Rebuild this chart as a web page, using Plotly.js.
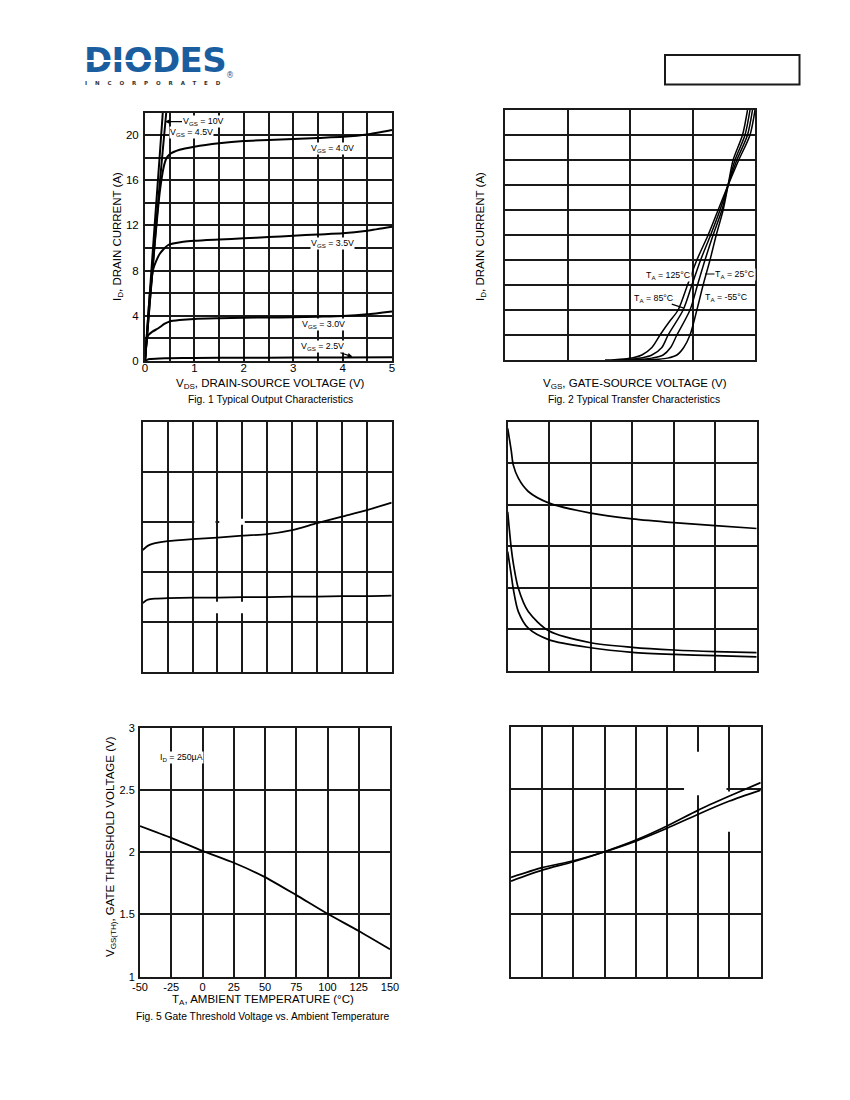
<!DOCTYPE html>
<html>
<head>
<meta charset="utf-8">
<script src="https://cdn.plot.ly/plotly-3.0.1.min.js"></script>
<style>
  body { margin:0; background:#fff; }
  #page { position:relative; width:850px; height:1100px; overflow:hidden; }
  #chart { position:absolute; left:0; top:0; width:850px; height:1100px; }
  #logo { position:absolute; left:84px; top:43px; }
  #logoWord { font-family:"DejaVu Sans", sans-serif; font-weight:bold; font-size:34px; line-height:34px; color:#1b5e9f; letter-spacing:-0.6px; }
  #logoStripe { position:absolute; left:1px; top:17px; width:72px; height:1.6px; background:#fff; }
  #logoInc { position:absolute; left:1px; top:37px; font-family:"DejaVu Sans", sans-serif; font-weight:bold; font-size:5.5px; letter-spacing:7.9px; color:#333; white-space:nowrap; }
  #logoReg { position:absolute; left:142px; top:28px; font-family:"DejaVu Sans", sans-serif; font-size:8px; color:#1b5e9f; }
</style>
</head>
<body>
<div id="page">
  <div id="chart"></div>
  <div id="logo">
    <div id="logoWord">DIODES</div>
    <div id="logoStripe"></div>
    <div id="logoInc">INCORPORATED</div>
    <div id="logoReg">®</div>
  </div>
</div>
<script>
// ---------------- DATA ----------------
// Fig. 1 Typical Output Characteristics (VDS in V, ID in A)
const fig1_10V_x  = [0, 0.1, 0.2, 0.3, 0.36];
const fig1_10V_y  = [0, 6.2, 12.3, 18.3, 22];
const fig1_45V_x  = [0, 0.1, 0.2, 0.3, 0.43];
const fig1_45V_y  = [0, 5.4, 10.7, 15.8, 22];
const fig1_40V_x  = [0, 0.1, 0.2, 0.3, 0.38, 0.43, 0.5, 0.7, 1, 1.5, 2, 2.5, 3, 3.5, 4, 4.5, 5];
const fig1_40V_y  = [0, 5.3, 10.5, 15, 17.2, 17.9, 18.3, 18.7, 18.97, 19.27, 19.47, 19.57, 19.65, 19.75, 19.85, 20.05, 20.45];
const fig1_35V_x  = [0, 0.05, 0.1, 0.17, 0.3, 0.47, 0.78, 1, 1.5, 2, 2.5, 3, 3.5, 4, 4.5, 5];
const fig1_35V_y  = [0, 3.0, 6.0, 8.2, 9.5, 10.27, 10.56, 10.65, 10.76, 10.86, 10.97, 11.09, 11.2, 11.3, 11.53, 11.88];
const fig1_30V_x  = [0, 0.02, 0.07, 0.15, 0.27, 0.4, 0.5, 0.7, 1, 1.5, 2, 2.5, 3, 3.5, 4, 4.5, 5];
const fig1_30V_y  = [0, 1.5, 2.3, 2.6, 2.9, 3.3, 3.5, 3.62, 3.72, 3.78, 3.83, 3.85, 3.87, 3.92, 3.98, 4.13, 4.39];
const fig1_25V_x  = [0, 0.05, 0.1, 0.3, 0.5, 1, 2, 3, 4, 5];
const fig1_25V_y  = [0, 0.12, 0.17, 0.22, 0.25, 0.27, 0.29, 0.3, 0.31, 0.33];
const fig1XTickVals = [0, 0.5, 1, 1.5, 2, 2.5, 3, 3.5, 4, 4.5, 5];
const fig1XTickText = ['0', '', '1', '', '2', '', '3', '', '4', '', '5'];
const fig1YTickVals = [0, 2, 4, 6, 8, 10, 12, 14, 16, 18, 20, 22];
const fig1YTickText = ['0', '', '4', '', '8', '', '12', '', '16', '', '20', ''];

// Fig. 2 Typical Transfer Characteristics (VGS in V, ID in A)
const fig2_125_x = [1.6, 1.75, 1.9, 2.05, 2.19, 2.35, 2.48, 2.62, 2.77, 2.92, 3.07, 3.25, 3.41, 3.57, 3.74, 3.92, 4.0];
const fig2_125_y = [0, 0.03, 0.08, 0.18, 0.4, 1, 2, 3, 4, 6, 8, 10, 12, 14, 16, 18, 20];
const fig2_85_x  = [1.75, 1.9, 2.05, 2.2, 2.35, 2.51, 2.61, 2.85, 2.99, 3.13, 3.29, 3.44, 3.57, 3.71, 3.88, 3.96];
const fig2_85_y  = [0, 0.03, 0.08, 0.18, 0.4, 1, 2, 4, 6, 8, 10, 12, 14, 16, 18, 20];
const fig2_25_x  = [1.9, 2.05, 2.2, 2.35, 2.53, 2.65, 2.75, 2.96, 3.08, 3.2, 3.33, 3.47, 3.57, 3.68, 3.84, 3.92];
const fig2_25_y  = [0, 0.02, 0.06, 0.15, 0.4, 1, 2, 4, 6, 8, 10, 12, 14, 16, 18, 20];
const fig2_m55_x = [2.1, 2.3, 2.45, 2.6, 2.75, 2.86, 2.96, 3.07, 3.17, 3.28, 3.38, 3.49, 3.57, 3.65, 3.80, 3.88];
const fig2_m55_y = [0, 0.02, 0.06, 0.15, 0.4, 1, 2, 4, 6, 8, 10, 12, 14, 16, 18, 20];
const fig2XTickVals = [0, 1, 2, 3, 4];
const fig2YTickVals = [0, 2, 4, 6, 8, 10, 12, 14, 16, 18, 20];

// Fig. 3 (labels removed in the reference)
const fig3_x      = [0, 0.3, 0.6, 1, 2, 4, 6, 8, 10, 12, 14, 16, 18, 20];
const fig3_upper  = [0.0243, 0.0250, 0.0254, 0.0257, 0.0261, 0.0265, 0.0268, 0.0272, 0.0275, 0.0283, 0.0297, 0.031, 0.0323, 0.0338];
const fig3_lower  = [0.0137, 0.0143, 0.0145, 0.0146, 0.0147, 0.0148, 0.0148, 0.0149, 0.0149, 0.0150, 0.0150, 0.0151, 0.0151, 0.0152];
const fig3XTickVals = [0, 2, 4, 6, 8, 10, 12, 14, 16, 18, 20];
const fig3YTickVals = [0, 0.01, 0.02, 0.03, 0.04, 0.05];

// Fig. 4 (labels removed in the reference)
const fig4_x      = [0, 0.43, 0.67, 1.28, 2.48, 5, 10, 15, 20, 25, 30];
const fig4_upper  = [0.0584, 0.053, 0.0496, 0.0464, 0.0432, 0.0404, 0.038, 0.0366, 0.0357, 0.035, 0.0343];
const fig4_middle = [0.0383, 0.0295, 0.026, 0.0199, 0.0143, 0.0096, 0.0068, 0.0057, 0.00505, 0.00465, 0.0044];
const fig4_lower  = [0.0287, 0.0231, 0.0198, 0.0143, 0.0103, 0.0075, 0.0056, 0.0045, 0.0040, 0.0037, 0.0034];
const fig4XTickVals = [0, 5, 10, 15, 20, 25, 30];
const fig4YTickVals = [0, 0.01, 0.02, 0.03, 0.04, 0.05, 0.06];

// Fig. 5 Gate Threshold Voltage vs. Ambient Temperature
const fig5_temp = [-50, -25, 0, 25, 50, 75, 100, 125, 150];
const fig5_vth  = [2.21, 2.115, 2.01, 1.915, 1.80, 1.655, 1.505, 1.367, 1.22];
const fig5XTickVals = [-50, -25, 0, 25, 50, 75, 100, 125, 150];
const fig5XTickText = ['-50', '-25', '0', '25', '50', '75', '100', '125', '150'];
const fig5YTickVals = [1, 1.5, 2, 2.5, 3];
const fig5YTickText = ['1', '1.5', '2', '2.5', '3'];

// Fig. 6 (labels removed in the reference)
const fig6_temp = [-50, -25, 0, 25, 50, 75, 100, 125, 150];
const fig6_a    = [0.906, 0.941, 0.968, 1.0, 1.037, 1.082, 1.133, 1.178, 1.221];
const fig6_b    = [0.918, 0.949, 0.971, 1.0, 1.034, 1.075, 1.12, 1.162, 1.197];
const fig6XTickVals = [-50, -25, 0, 25, 50, 75, 100, 125, 150];
const fig6YTickVals = [0.6, 0.8, 1.0, 1.2, 1.4];

// ---------------- LAYOUT HELPERS ----------------
const W = 850, H = 1100;
const FONT = 'Liberation Sans, Arial, sans-serif';
const GRID = '#1a1a1a';
const px = p => p / W;
const py = p => 1 - p / H;

function axis(domain, range, tickvals, ticktext, anchor, showLabels, standoff, fsize) {
  const a = {
    domain: domain, range: range, anchor: anchor,
    tickmode: 'array', tickvals: tickvals,
    showticklabels: showLabels,
    showgrid: true, gridcolor: GRID, gridwidth: 2,
    zeroline: false, showline: true, mirror: true,
    linecolor: GRID, linewidth: 2,
    ticks: '', ticklabelstandoff: standoff || 0,
    tickfont: { family: FONT, size: fsize || 11.5, color: '#000' },
    fixedrange: true
  };
  if (ticktext) a.ticktext = ticktext;
  return a;
}

function line(x, y, xa, ya, w, smooth) {
  return {
    type: 'scatter', mode: 'lines', x: x, y: y, xaxis: xa, yaxis: ya,
    line: { color: '#000', width: w, shape: 'spline', smoothing: smooth },
    hoverinfo: 'skip', showlegend: false
  };
}

const traces = [
  line(fig1_10V_x, fig1_10V_y, 'x', 'y', 2, 0.3),
  line(fig1_45V_x, fig1_45V_y, 'x', 'y', 2, 0.3),
  line(fig1_40V_x, fig1_40V_y, 'x', 'y', 2, 0.5),
  line(fig1_35V_x, fig1_35V_y, 'x', 'y', 2, 0.6),
  line(fig1_30V_x, fig1_30V_y, 'x', 'y', 2, 0.6),
  line(fig1_25V_x, fig1_25V_y, 'x', 'y', 2, 0.6),
  line(fig2_125_x, fig2_125_y, 'x2', 'y2', 1.5, 0.8),
  line(fig2_85_x,  fig2_85_y,  'x2', 'y2', 1.5, 0.8),
  line(fig2_25_x,  fig2_25_y,  'x2', 'y2', 1.5, 0.8),
  line(fig2_m55_x, fig2_m55_y, 'x2', 'y2', 1.5, 0.8),
  line(fig3_x, fig3_upper, 'x3', 'y3', 1.8, 0.7),
  line(fig3_x, fig3_lower, 'x3', 'y3', 1.8, 0.7),
  line(fig4_x, fig4_upper,  'x4', 'y4', 1.7, 0.8),
  line(fig4_x, fig4_middle, 'x4', 'y4', 1.7, 0.8),
  line(fig4_x, fig4_lower,   'x4', 'y4', 1.7, 0.8),
  line(fig5_temp, fig5_vth, 'x5', 'y5', 1.8, 0.6),
  line(fig6_temp, fig6_a, 'x6', 'y6', 1.7, 0.7),
  line(fig6_temp, fig6_b, 'x6', 'y6', 1.7, 0.7)
];

const labelFont = { family: FONT, size: 8.8, color: '#000' };
const titleFont = { family: FONT, size: 11.5, color: '#000' };
const capFont   = { family: FONT, size: 10.3, color: '#000' };

function lab(text, x, y, xr, yr, extra) {
  return Object.assign({ text: text, x: x, y: y, xref: xr, yref: yr, showarrow: false,
    font: labelFont, bgcolor: '#fff', borderpad: 0 }, extra || {});
}
function ptxt(text, xp, yp, font, angle) {
  return { text: text, x: px(xp), y: py(yp), xref: 'paper', yref: 'paper', showarrow: false,
    font: font, textangle: angle || 0, xanchor: 'center', yanchor: 'middle' };
}

const annotations = [
  // Fig 1 labels
  lab('V<sub>GS</sub> = 10V', 0.405, 21.2, 'x', 'y', { showarrow: true, ax: 38, ay: 0, arrowhead: 2, arrowsize: 0.8, arrowwidth: 1.2, arrowcolor: '#000' }),
  lab('V<sub>GS</sub> = 4.5V', 0.95, 20.2, 'x', 'y'),
  lab('V<sub>GS</sub> = 4.0V', 3.8, 18.8, 'x', 'y'),
  lab('V<sub>GS</sub> = 3.5V', 3.8, 10.4, 'x', 'y'),
  lab('V<sub>GS</sub> = 3.0V', 3.62, 3.2, 'x', 'y'),
  lab('V<sub>GS</sub> = 2.5V', 4.2, 0.38, 'x', 'y', { showarrow: true, ax: -30, ay: -10, arrowhead: 2, arrowsize: 0.8, arrowwidth: 1.2, arrowcolor: '#000' }),
  // Fig 2 labels
  lab('T<sub>A</sub> = 125°C', 2.62, 6.8, 'x2', 'y2'),
  lab('T<sub>A</sub> = 25°C', 3.2, 6.88, 'x2', 'y2', { showarrow: true, ax: 30, ay: 0, arrowhead: 0, arrowwidth: 1.1, arrowcolor: '#000' }),
  lab('T<sub>A</sub> = 85°C', 2.86, 4.15, 'x2', 'y2', { showarrow: true, ax: -30, ay: -10, arrowhead: 0, arrowwidth: 1.1, arrowcolor: '#000' }),
  lab('T<sub>A</sub> = -55°C', 3.55, 5.0, 'x2', 'y2'),
  // Fig 5 label
  lab('I<sub>D</sub> = 250µA', -16.5, 2.76, 'x5', 'y5'),
  // Axis titles and captions
  ptxt('V<sub>DS</sub>, DRAIN-SOURCE VOLTAGE (V)', 270, 384, titleFont),
  ptxt('Fig. 1 Typical Output Characteristics', 270, 399, capFont),
  ptxt('I<sub>D</sub>, DRAIN CURRENT (A)', 118, 237, titleFont, -90),
  ptxt('V<sub>GS</sub>, GATE-SOURCE VOLTAGE (V)', 635, 384, titleFont),
  ptxt('Fig. 2 Typical Transfer Characteristics', 634, 399, capFont),
  ptxt('I<sub>D</sub>, DRAIN CURRENT (A)', 481, 237, titleFont, -90),
  ptxt('T<sub>A</sub>, AMBIENT TEMPERATURE (°C)', 263, 1000, titleFont),
  ptxt('Fig. 5 Gate Threshold Voltage vs. Ambient Temperature', 262, 1016.5, capFont),
  ptxt('V<sub>GS(TH)</sub>, GATE THRESHOLD VOLTAGE (V)', 111, 847, titleFont, -90)
];

function mask(xr, yr, x0, x1, y0, y1) {
  return { type: 'rect', xref: xr, yref: yr, x0: x0, x1: x1, y0: y0, y1: y1,
    fillcolor: '#fff', line: { width: 0 }, layer: 'between' };
}

const shapes = [
  // header box
  { type: 'rect', xref: 'paper', yref: 'paper', x0: px(665), x1: px(799.5), y0: py(84.5), y1: py(55),
    line: { color: GRID, width: 2 }, fillcolor: 'rgba(0,0,0,0)' },
  // erased gridline pieces (Fig 3)
  mask('x3', 'y3', 4.15, 5.85, 0.0294, 0.0306),
  mask('x3', 'y3', 6.15, 8.2, 0.0294, 0.0306),
  mask('x3', 'y3', 5.8, 6.2, 0.0117, 0.014),
  mask('x3', 'y3', 7.8, 8.2, 0.0117, 0.014),
  // erased gridline pieces (Fig 6)
  mask('x6', 'y6', 88.6, 122.6, 1.193, 1.207),
  mask('x6', 'y6', 98, 102, 1.181, 1.32),
  mask('x6', 'y6', 123, 127, 1.064, 1.193)
];

const layout = {
  width: W, height: H,
  margin: { l: 0, r: 0, t: 0, b: 0 },
  paper_bgcolor: '#fff', plot_bgcolor: '#fff',
  showlegend: false,
  font: { family: FONT, color: '#000' },
  xaxis:  axis([px(145), px(392)], [0, 5], fig1XTickVals, fig1XTickText, 'y', true, -5),
  yaxis:  axis([py(361), py(112.5)], [0, 22], fig1YTickVals, fig1YTickText, 'x', true, 2),
  xaxis2: axis([px(505), px(755)], [0, 4], fig2XTickVals, null, 'y2', false),
  yaxis2: axis([py(360), py(110)], [0, 20], fig2YTickVals, null, 'x2', false),
  xaxis3: axis([px(142.7), px(391.7)], [0, 20], fig3XTickVals, null, 'y3', false),
  yaxis3: axis([py(671.7), py(421.7)], [0, 0.05], fig3YTickVals, null, 'x3', false),
  xaxis4: axis([px(507.7), px(756.7)], [0, 30], fig4XTickVals, null, 'y4', false),
  yaxis4: axis([py(671), py(421.7)], [0, 0.06], fig4YTickVals, null, 'x4', false),
  xaxis5: axis([px(140), px(390)], [-50, 150], fig5XTickVals, fig5XTickText, 'y5', true, -1, 11),
  yaxis5: axis([py(976.7), py(727.7)], [1, 3], fig5YTickVals, fig5YTickText, 'x5', true, 1, 11),
  xaxis6: axis([px(511), px(760.7)], [-50, 150], fig6XTickVals, null, 'y6', false),
  yaxis6: axis([py(976.7), py(726.7)], [0.6, 1.4], fig6YTickVals, null, 'x6', false),
  annotations: annotations,
  shapes: shapes
};

Plotly.newPlot('chart', traces, layout, { staticPlot: true, displayModeBar: false });
</script>
</body>
</html>
